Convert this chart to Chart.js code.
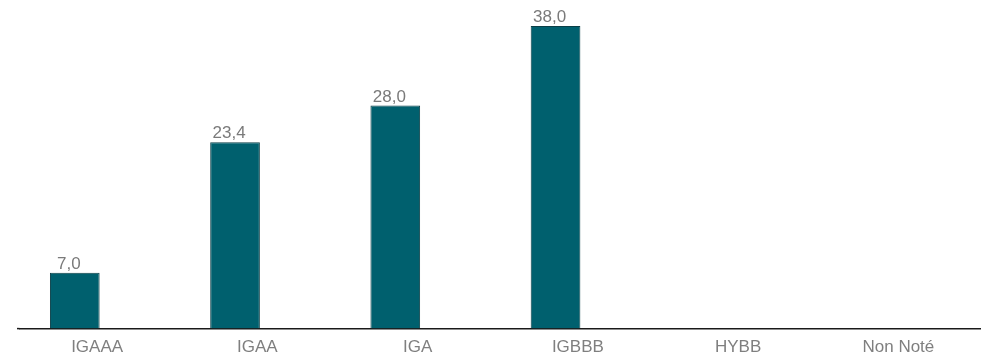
<!DOCTYPE html>
<html>
<head>
<meta charset="utf-8">
<script src="https://cdn.jsdelivr.net/npm/chart.js@4/dist/chart.umd.min.js"></script>
<style>
  html, body { margin: 0; padding: 0; background: #ffffff; }
  #wrap { width: 981px; height: 355px; position: relative; }
</style>
</head>
<body>
<div id="wrap"><canvas id="c"></canvas></div>
<script>
// Rating buckets and their weights (%)
const categories = ['IGAAA', 'IGAA', 'IGA', 'IGBBB', 'HYBB', 'Non Noté'];
const weights = [7.0, 23.4, 28.0, 38.0, null, null];
// Companion series sharing each category slot (no values)
const companion = [null, null, null, null, null, null];

const fmt = v => v.toFixed(1).replace('.', ',');

// Value labels above bars
const valueLabels = {
  id: 'valueLabels',
  afterDatasetsDraw(chart) {
    const ctx = chart.ctx;
    const meta = chart.getDatasetMeta(0);
    ctx.save();
    ctx.fillStyle = '#7a7a7a';
    ctx.font = '17px "Liberation Sans", Arial, sans-serif';
    ctx.textAlign = 'center';
    ctx.textBaseline = 'alphabetic';
    meta.data.forEach((bar, i) => {
      const v = weights[i];
      if (v === null || v === undefined) return;
      ctx.fillText(fmt(v), bar.x - 6, bar.y - 4);
    });
    ctx.restore();
  }
};

// Let the baseline run a little past the left edge of the plot
const baselineLead = {
  id: 'baselineLead',
  afterDraw(chart) {
    const ctx = chart.ctx;
    const y = chart.scales.y.getPixelForValue(0);
    ctx.save();
    ctx.strokeStyle = '#1a1a1a';
    ctx.lineWidth = 1.5;
    ctx.beginPath();
    ctx.moveTo(chart.chartArea.left - 2.5, y);
    ctx.lineTo(chart.chartArea.left, y);
    ctx.stroke();
    ctx.restore();
  }
};

new Chart(document.getElementById('c'), {
  type: 'bar',
  data: {
    labels: categories,
    datasets: [
      {
        label: 'Poids',
        data: weights,
        backgroundColor: '#00606e',
        borderColor: '#0b3f47',
        borderWidth: 1,
        categoryPercentage: 0.62,
        barPercentage: 1.0
      },
      {
        label: '',
        data: companion,
        backgroundColor: '#00606e',
        categoryPercentage: 0.62,
        barPercentage: 1.0
      }
    ]
  },
  options: {
    responsive: true,
    maintainAspectRatio: false,
    animation: false,
    layout: { padding: { left: 19.5, right: 0, top: 10, bottom: -12 } },
    plugins: {
      legend: { display: false },
      tooltip: { enabled: false }
    },
    scales: {
      x: {
        grid: { display: false, drawTicks: false },
        border: { display: true, color: '#1a1a1a', width: 1.5 },
        ticks: {
          color: '#7f7f7f',
          font: { family: '"Liberation Sans", Arial, sans-serif', size: 17 },
          padding: 9,
          labelOffset: -2.5
        }
      },
      y: {
        display: false,
        min: 0,
        max: 40
      }
    }
  },
  plugins: [valueLabels, baselineLead]
});
</script>
</body>
</html>
